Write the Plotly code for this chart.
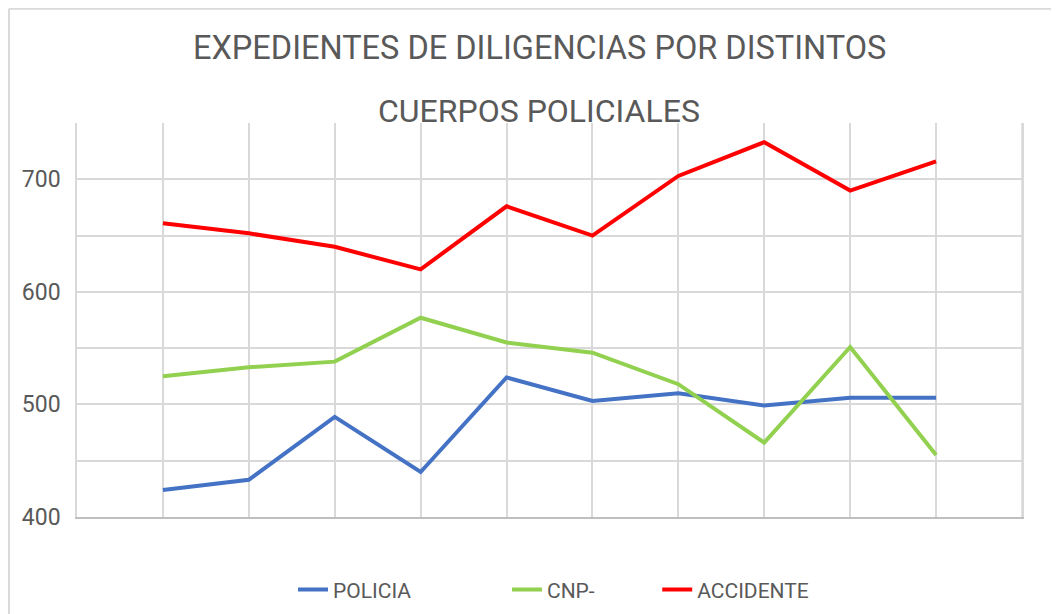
import plotly.graph_objects as go

periodos = [1, 2, 3, 4, 5, 6, 7, 8, 9, 10]
policia = [424, 433, 489, 440, 524, 503, 510, 499, 506, 506]
cnp = [525, 533, 538, 577, 555, 546, 518, 466, 551, 455]
accidente = [661, 652, 640, 620, 676, 650, 703, 733, 690, 716]

series = [("POLICIA", policia, "#4472C4", "legend", 0.2286),
          ("CNP-", cnp, "#92D050", "legend2", 0.455),
          ("ACCIDENTE", accidente, "#FF0000", "legend3", 0.614)]

FONT = "Roboto, sans-serif"
GRIS = "#595959"
REJILLA = "#d9d9d9"

fig = go.Figure()
for nombre, valores, color, leg, xl in series:
    fig.add_trace(go.Scatter(x=periodos, y=valores, mode="lines", name=nombre,
                             line=dict(color=color, width=4), legend=leg))

def leyenda(xl):
    return dict(x=xl, y=-0.185, xanchor="left", yanchor="middle", orientation="h",
                font=dict(family=FONT, size=21, color=GRIS), bgcolor="rgba(0,0,0,0)")

# la pagina tiene 8px de margen en el body, por eso los margenes van restados
fig.update_layout(
    width=1059, height=614,
    margin=dict(l=69, r=45, t=115, b=105, autoexpand=False),
    paper_bgcolor="white", plot_bgcolor="white",
    font=dict(family=FONT, color=GRIS),
    showlegend=True,
    legend=leyenda(series[0][4]),
    legend2=leyenda(series[1][4]),
    legend3=leyenda(series[2][4]),
    xaxis=dict(range=[0, 11], dtick=1, tick0=0, showticklabels=False,
               showgrid=True, gridcolor=REJILLA, gridwidth=1.5, zeroline=False,
               showline=True, linecolor="#bfbfbf", linewidth=2, mirror=False,
               automargin=False),
    yaxis=dict(range=[400, 750], dtick=100, tick0=400, showgrid=True,
               gridcolor=REJILLA, gridwidth=1.5, zeroline=False,
               minor=dict(dtick=50, showgrid=True, gridcolor=REJILLA, gridwidth=1.5),
               tickfont=dict(family=FONT, size=23, color=GRIS),
               ticks="outside", ticklen=10, tickcolor="rgba(0,0,0,0)",
               showline=True, linecolor=REJILLA, linewidth=1.5, mirror=True,
               automargin=False),
    annotations=[
        dict(text="EXPEDIENTES DE DILIGENCIAS POR DISTINTOS", xref="paper", yref="paper",
             x=0.489, y=1.19, showarrow=False, xanchor="center", yanchor="middle",
             font=dict(family=FONT, size=32.5, color=GRIS)),
        dict(text="CUERPOS POLICIALES", xref="paper", yref="paper",
             x=0.489, y=1.03, showarrow=False, xanchor="center", yanchor="middle",
             font=dict(family=FONT, size=32, color=GRIS)),
    ],
    shapes=[
        dict(type="line", xref="paper", yref="paper", x0=-0.072, x1=1.05, y0=1.29, y1=1.29,
             line=dict(color=REJILLA, width=2)),
        dict(type="line", xref="paper", yref="paper", x0=-0.072, x1=-0.072, y0=1.29, y1=-0.3,
             line=dict(color=REJILLA, width=2)),
        dict(type="line", xref="paper", yref="paper", x0=1, x1=1, y0=0, y1=1,
             line=dict(color=REJILLA, width=1.5)),
    ],
)

fig.write_html("out.html")
